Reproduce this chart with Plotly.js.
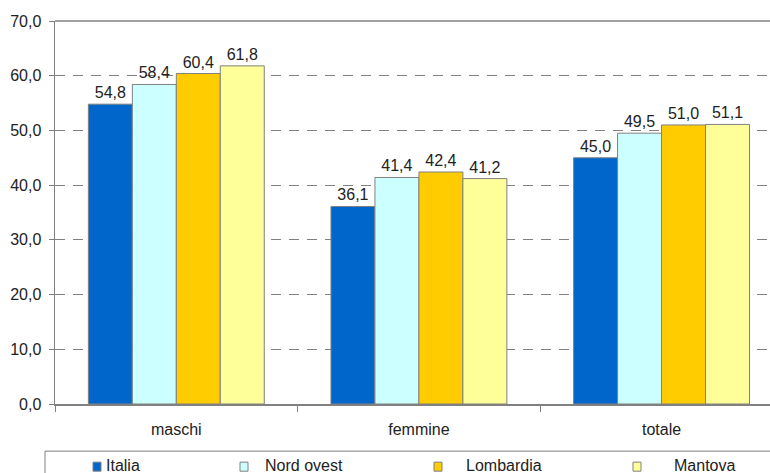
<!DOCTYPE html>
<html>
<head>
<meta charset="utf-8">
<script src="https://cdn.plot.ly/plotly-3.0.1.min.js"></script>
<style>html,body{margin:0;padding:0;background:#fff;}#chart{width:770px;height:473px;}</style>
</head>
<body>
<div id="chart"></div>
<script>
var categories = ["maschi", "femmine", "totale"];
var seriesNames = ["Italia", "Nord ovest", "Lombardia", "Mantova"];
var italia = [54.8, 36.1, 45.0];
var nordOvest = [58.4, 41.4, 49.5];
var lombardia = [60.4, 42.4, 51.0];
var mantova = [61.8, 41.2, 51.1];
var yTicks = [0, 10, 20, 30, 40, 50, 60, 70];
var colors = ["#0066CC", "#CCFFFF", "#FFCC00", "#FFFF99"];

var FONT = "Liberation Sans, Arial, sans-serif";
var values = [italia, nordOvest, lombardia, mantova];

var traces = values.map(function (v, i) {
  return {
    type: "bar",
    name: seriesNames[i],
    x: categories,
    y: v,
    marker: { color: colors[i], line: { color: "#808080", width: 1 } },
    texttemplate: "%{y:.1f}",
    textposition: "outside",
    cliponaxis: false,
    textfont: { family: FONT, size: 16, color: "#222" },
    hoverinfo: "skip"
  };
});

// custom legend positions (pixels -> paper)
var plotL = 55, plotW = 715, plotT = 21, plotH = 382;
function px(x) { return (x - plotL) / plotW; }
function py(y) { return (plotT + plotH - y) / plotH; }
var legMarkX = [93, 240, 434, 633];
var legTextX = [104, 263, 464, 672];

var shapes = [
  { type: "line", xref: "paper", yref: "paper", x0: 0, x1: 1, y0: 1, y1: 1,
    line: { color: "#808080", width: 1.5 } },
  { type: "rect", xref: "paper", yref: "paper", x0: px(45), x1: px(800), y0: py(500), y1: py(450),
    line: { color: "#808080", width: 1 }, fillcolor: "rgba(0,0,0,0)" }
];
var annotations = [];
seriesNames.forEach(function (n, i) {
  shapes.push({ type: "rect", xref: "paper", yref: "paper",
    x0: px(legMarkX[i]), x1: px(legMarkX[i] + 8), y0: py(470), y1: py(461),
    line: { color: "#808080", width: 1 }, fillcolor: colors[i] });
  annotations.push({ xref: "paper", yref: "paper", x: px(legTextX[i]), y: py(464),
    xanchor: "left", yanchor: "middle", showarrow: false, text: n,
    font: { family: FONT, size: 16, color: "#222" } });
});

var layout = {
  width: 770, height: 473,
  margin: { l: 55, r: 0, t: 21, b: 69, pad: 0 },
  paper_bgcolor: "#fff", plot_bgcolor: "#fff",
  showlegend: false,
  separators: ",.",
  barmode: "group",
  bargap: 0.275,
  bargroupgap: 0,
  font: { family: FONT, size: 16, color: "#222" },
  xaxis: {
    type: "category",
    range: [-0.5, 2.447],
    showline: true, linecolor: "#808080", linewidth: 1.5,
    ticks: "outside", tickson: "boundaries", ticklen: 6, tickcolor: "#808080",
    ticklabelstandoff: 10,
    showgrid: false, zeroline: false,
    tickfont: { family: FONT, size: 16, color: "#222" }
  },
  yaxis: {
    range: [0, 70],
    tickvals: yTicks,
    tickformat: ".1f",
    showline: true, linecolor: "#808080", linewidth: 1.5,
    ticks: "outside", ticklen: 5, tickcolor: "#808080",
    ticklabelstandoff: 4,
    showgrid: true, gridcolor: "#808080", griddash: "10px,8px", gridwidth: 1,
    zeroline: false,
    tickfont: { family: FONT, size: 16, color: "#222" }
  },
  shapes: shapes,
  annotations: annotations
};

Plotly.newPlot("chart", traces, layout, { displayModeBar: false, staticPlot: true });
</script>
</body>
</html>
